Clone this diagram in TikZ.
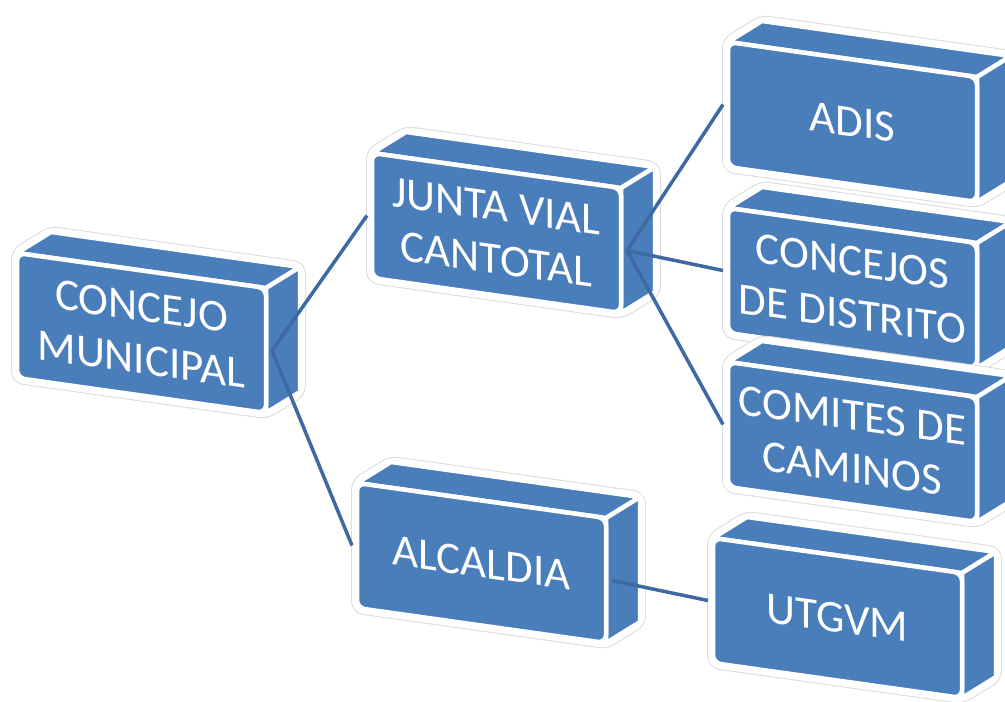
\documentclass[tikz,border=0pt]{standalone}
\usepackage{fontspec}
\setmainfont{Carlito}
\definecolor{boxblue}{RGB}{74,126,187}
\definecolor{linkblue}{RGB}{62,105,162}
\tikzset{
  face/.style={fill=boxblue, draw=white, line width=4.5pt, line join=round},
  link/.style={draw=linkblue, line width=3.5pt},
  boxlabel/.style={text=white, align=center, font=\fontsize{45}{53}\selectfont, yslant=-0.14, inner sep=0pt},
  pics/cube/.style={code={
    \path[draw=black!14, line width=12pt, line join=round, rounded corners=7pt]
      (0,-125) -- (0,0) -- (34,21) -- (283,-14) -- (283,-139) -- (249,-160) -- cycle;
    \path[draw=white, fill=white, line width=10pt, line join=round, rounded corners=7pt]
      (0,-125) -- (0,0) -- (34,21) -- (283,-14) -- (283,-139) -- (249,-160) -- cycle;
    \path[face] (0,0) -- (34,21) -- (283,-14) -- (249,-35) -- cycle;
    \path[face] (249,-35) -- (283,-14) -- (283,-139) -- (249,-160) -- cycle;
    \path[face, rounded corners=8pt] (0,0) -- (249,-35) -- (249,-160) -- (0,-125) -- cycle;
    \node[boxlabel] (-t) at (124.5,-80) {#1};
    \coordinate (-l) at (-5,-62.5);
    \coordinate (-r) at (255,-97.5);
  }}
}
\begin{document}
\begin{tikzpicture}[x=1pt,y=1pt]
\useasboundingbox (0,0) rectangle (1005,-702);
\begin{scope}
\clip (0,0) rectangle (1005,-702);
\pic (cm) at (17,-253) {cube={CONCEJO\\MUNICIPAL}};
\pic (jv) at (372,-153) {cube={JUNTA VIAL\\CANTOTAL}};
\pic (adis) at (728,-42) {cube={ADIS}};
\pic (cd) at (728,-208) {cube={CONCEJOS\\DE DISTRITO}};
\pic (cc) at (728,-362) {cube={COMITES DE\\CAMINOS}};
\pic (alc) at (357,-483) {cube={ALCALDIA}};
\pic (utg) at (713,-538) {cube={UTGVM}};
\draw[link] (cm-r) -- (jv-l);
\draw[link] (cm-r) -- (alc-l);
\draw[link] (jv-r) -- (adis-l);
\draw[link] (jv-r) -- (cd-l);
\draw[link] (jv-r) -- (cc-l);
\draw[link] (alc-r) -- (utg-l);
\end{scope}
\end{tikzpicture}
\end{document}
